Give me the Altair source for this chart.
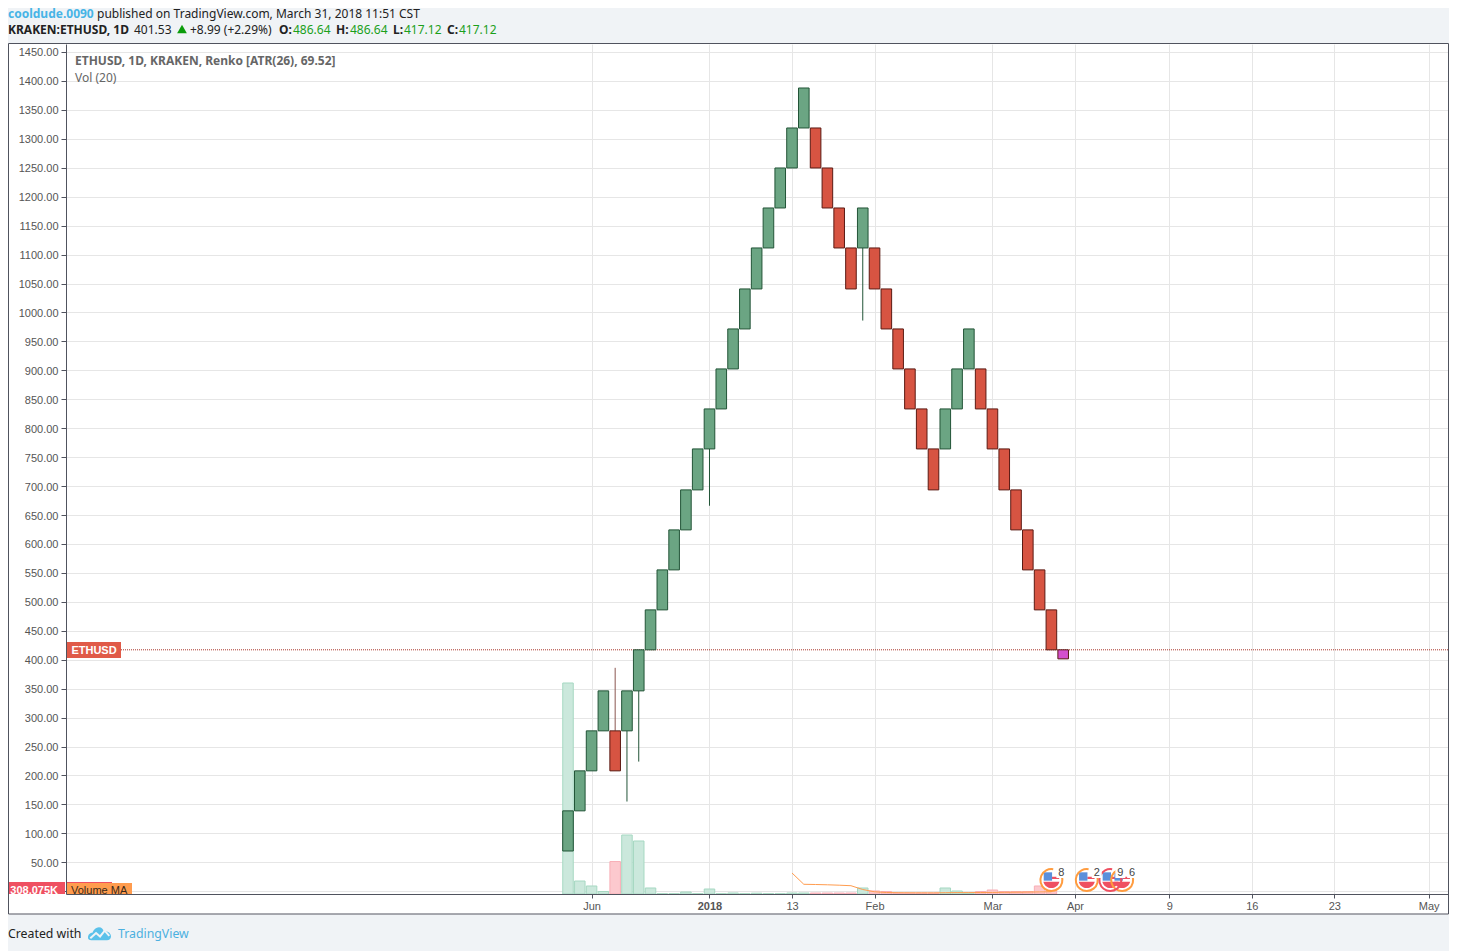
import altair as alt
import pandas as pd

# ---- price bricks ----
brick_index = list(range(43))
brick_low = [69.5,138.9,208,277.1,208,277.1,346.2,417.1,486.1,555.2,624.3,693.4,764.2,833.3,902.4,971.5,1040.6,1111.4,1180.5,1249.6,1318.7,
             1249.6,1180.5,1111.4,1040.6,1111.4,1040.6,971.5,902.4,833.3,764.2,693.4,764.2,833.3,902.4,833.3,764.2,693.4,624.3,555.2,486.1,417.1,401.5]
brick_high = [138.9,208,277.1,346.2,277.1,346.2,417.1,486.1,555.2,624.3,693.4,764.2,833.3,902.4,971.5,1040.6,1111.4,1180.5,1249.6,1318.7,1387.8,
              1318.7,1249.6,1180.5,1111.4,1180.5,1111.4,1040.6,971.5,902.4,833.3,764.2,833.3,902.4,971.5,902.4,833.3,764.2,693.4,624.3,555.2,486.1,417.1]
brick_dir = list("uuuuduuuuuuuuuuuuuuuu") + list("dddd") + ["u"] + list("dddddd") + list("uuu") + list("ddddddd") + ["p"]

# ---- wicks ----
wick_index = [4, 5, 6, 12, 25]
wick_from = [277.1, 277.1, 346.2, 764.2, 1111.4]
wick_to = [386, 155, 224, 666, 986]
wick_dir = ["d", "u", "u", "u", "u"]

# ---- volume (thousands) ----
vol_index = list(range(42))
vol_value = [12998,800,493,154,2000,3634,3265,370,18,18,123,18,308,18,62,18,50,18,18,60,60,
             60,60,60,60,370,185,154,60,60,60,60,370,185,60,154,246,154,154,154,493,370]
vol_dir = ["u","u","u","u","d","u","u","u","u","u","u","u","u","u","u","u","u","u","u","u","u",
           "d","d","d","d","u","d","d","d","d","d","d","u","u","u","d","d","d","d","d","d","d"]

# ---- volume moving average (thousands) ----
ma_index = list(range(19, 42))
ma_value = [1294,598,585,567,542,511,277,135,92,80,74,72,70,80,86,86,92,98,105,110,117,129,135]

# ---- axes ----
price_ticks = [0,50,100,150,200,250,300,350,400,450,500,550,600,650,700,750,800,850,900,950,1000,1050,
               1100,1150,1200,1250,1300,1350,1400,1450]
time_ticks = [2, 12, 19, 26, 36, 43, 51, 58, 65, 73]
time_labels = ["Jun", "2018", "13", "Feb", "Mar", "Apr", "9", "16", "23", "May"]
last_price = 417.12

# ---- event icons ----
event_index = [41, 44, 47, 46]
event_count = ["8", "2", "6", "9"]
event_ring = ["#ff9c3f", "#ff9c3f", "#ff9c3f", "#ef5061"]

UP, DOWN, PURPLE = "#6ba583", "#d75442", "#d44fce"
UP_E, DOWN_E, PURPLE_E = "#225437", "#5b1a13", "#5b1a13"
PAGE = "#f0f3f6"
FRAME = "#50535e"
GRID = "#e6e6e6"
FONT = "Noto Sans"
AXF = "Liberation Sans"

W, H = 1382, 850
OX, OY = 66, 44  # plot origin on page

bricks = pd.DataFrame({"i": brick_index, "lo": brick_low, "hi": brick_high, "d": brick_dir})
wicks = pd.DataFrame({"i": wick_index, "a": wick_from, "b": wick_to, "d": wick_dir})
vols = pd.DataFrame({"i": vol_index, "v": vol_value, "d": vol_dir})
ma = pd.DataFrame({"i": ma_index, "v": ma_value})
events = pd.DataFrame({"i": event_index, "n": event_count, "c": event_ring})

label_map = "{" + ",".join(f"{t}:'{l}'" for t, l in zip(time_ticks, time_labels)) + "}"
x_scale = alt.Scale(domain=[-42.58, 74.64], nice=False, zero=False, padding=0)
x_axis = alt.Axis(values=time_ticks, labelExpr=f"{label_map}[datum.value]", title=None, grid=True,
                  gridColor=GRID, gridWidth=1, domain=True, domainColor=FRAME, domainWidth=1,
                  tickColor=FRAME, tickSize=4, labelColor="#555555", labelFont=AXF, labelFontSize=11,
                  labelPadding=2, labelFontWeight=alt.expr("datum.value == 12 ? 'bold' : 'normal'"),
                  labelOverlap=False)
X = alt.X("i:Q", scale=x_scale, axis=x_axis)
price_scale = alt.Scale(domain=[-4.77, 1463.8], nice=False, zero=False, padding=0)
vol_scale = alt.Scale(domain=[0, 52360], nice=False, zero=False, padding=0)
dir_fill = alt.Scale(domain=["u", "d", "p"], range=[UP, DOWN, PURPLE])
dir_edge = alt.Scale(domain=["u", "d", "p"], range=[UP_E, DOWN_E, PURPLE_E])
vol_fill = alt.Scale(domain=["u", "d"], range=["#cbe8dc", "#fcc9ce"])
vol_edge = alt.Scale(domain=["u", "d"], range=["#a6d8c2", "#f8aeb6"])


def box(x0, x1, y0, y1, **mark):
    return alt.Chart(pd.DataFrame({"k": [0]})).mark_rect(**mark).encode(
        x=alt.value(x0 - OX), x2=alt.value(x1 - OX), y=alt.value(y0 - OY), y2=alt.value(y1 - OY))


def label(text, x, y, size=12, color="#222222", weight="normal", font=FONT, align="left"):
    return alt.Chart(pd.DataFrame({"k": [0]})).mark_text(
        text=text, align=align, baseline="alphabetic", fontSize=size, color=color,
        fontWeight=weight, font=font).encode(x=alt.value(x - OX), y=alt.value(y - OY))


page_top = box(8, 1449, 8, 43.5, fill=PAGE)
page_bottom = box(8, 1449, 914.5, 951, fill=PAGE)
frame = box(8.5, 1448.5, 43.5, 914, fill="transparent", stroke=FRAME, strokeWidth=1)

vol_bars = alt.Chart(vols).mark_bar(size=10.5, strokeWidth=1, clip=True).encode(
    x=X,
    y=alt.Y("v:Q", scale=vol_scale, axis=None),
    fill=alt.Fill("d:N", scale=vol_fill, legend=None),
    stroke=alt.Stroke("d:N", scale=vol_edge, legend=None),
)
ma_line = alt.Chart(ma).mark_line(color="#ff9c4e", strokeWidth=1).encode(
    x=X, y=alt.Y("v:Q", scale=vol_scale, axis=None))

price_axis = alt.Axis(values=price_ticks, title=None, grid=True, gridColor=GRID, gridWidth=1,
                      domain=True, domainColor=FRAME, domainWidth=1, tickColor=FRAME, tickSize=5,
                      labelColor="#555555", labelFont=AXF, labelFontSize=11, labelPadding=3, labelOffset=1,
                      labelExpr="datum.value == 0 ? '' : format(datum.value, '.2f')",
                      labelOverlap=False)
wick_rules = alt.Chart(wicks).mark_rule(strokeWidth=1).encode(
    x=X,
    y=alt.Y("a:Q", scale=price_scale, axis=price_axis),
    y2="b:Q",
    color=alt.Color("d:N", scale=alt.Scale(domain=["u", "d"], range=[UP_E, "#8a5550"]), legend=None),
)
brick_bars = alt.Chart(bricks).mark_bar(size=10.6, strokeWidth=1).encode(
    x=X,
    y=alt.Y("lo:Q", scale=price_scale, axis=None),
    y2="hi:Q",
    fill=alt.Fill("d:N", scale=dir_fill, legend=None),
    stroke=alt.Stroke("d:N", scale=dir_edge, legend=None),
)
last_line = alt.Chart(pd.DataFrame({"p": [last_price]})).mark_rule(
    color="#a8352a", strokeWidth=1, strokeDash=[1, 1]).encode(
    y=alt.Y("p:Q", scale=price_scale, axis=None))

# event icons
icon_y = 880 - OY
rings_white = alt.Chart(events).mark_point(shape="circle", filled=True, fill="white", size=430, opacity=1).encode(
    x=X, y=alt.value(icon_y))
red_part = alt.Chart(events).mark_point(
    filled=True, fill="#ef5061", opacity=1, size=484,
    shape="M-0.73,0.15 A0.75,0.75 0 0 0 0.73,0.15 Z M0.05,-0.3 L0.68,-0.3 L0.72,-0.08 L0.05,-0.08 Z",
).encode(x=X, y=alt.value(icon_y))
blue_part = alt.Chart(events).mark_point(shape="square", filled=True, fill="#5b8fdb", size=70, opacity=1, xOffset=-3.5, yOffset=-3.5).encode(
    x=X, y=alt.value(icon_y))
rings = alt.Chart(events).mark_point(
    filled=False, opacity=1, strokeWidth=2, size=484,
    shape="M0.913,-0.408 A1,1 0 1 1 0.166,-0.986",
).encode(x=X, y=alt.value(icon_y), stroke=alt.Stroke("c:N", scale=None, legend=None))
count_bg = alt.Chart(events).mark_point(shape="square", filled=True, fill="white", size=100, opacity=1, xOffset=10, yOffset=-7).encode(
    x=X, y=alt.value(icon_y))
counts = alt.Chart(events).mark_text(fontSize=11, font=AXF, color="#444444", dx=10, dy=-7).encode(
    x=X, y=alt.value(icon_y), text="n:N")

# logo
logo_cloud = alt.Chart(pd.DataFrame({"k": [0]})).mark_point(
    filled=True, fill="#5ac1ea", opacity=1, size=529,
    shape="M-1,0.42 C-1,0.1 -0.8,-0.02 -0.62,-0.02 C-0.5,-0.3 -0.3,-0.5 -0.05,-0.5 C0.2,-0.5 0.3,-0.32 0.38,-0.14 C0.75,-0.2 1,0.05 1,0.3 C1,0.5 0.85,0.62 0.65,0.62 L-0.7,0.62 C-0.9,0.62 -1,0.55 -1,0.42 Z",
).encode(x=alt.value(99.5 - OX), y=alt.value(933 - OY))
logo_zig = alt.Chart(pd.DataFrame({"k": [0]})).mark_point(
    filled=False, stroke=PAGE, strokeWidth=2, opacity=1, size=529,
    shape="M-0.8,0.45 L-0.3,0 L0.05,0.3 L0.45,-0.2 L0.85,0.25",
).encode(x=alt.value(99.5 - OX), y=alt.value(933 - OY))

GREEN = "#1ba01b"
triangle = alt.Chart(pd.DataFrame({"k": [0]})).mark_point(
    shape="triangle-up", filled=True, fill="#0b9c0b", opacity=1, size=95).encode(
    x=alt.value(182 - OX), y=alt.value(29 - OY))

texts = [
    label("cooldude.0090", 8, 18, color="#47b4e6", weight="bold"),
    label("published on TradingView.com, March 31, 2018 11:51 CST", 97, 18),
    label("KRAKEN:ETHUSD, 1D", 8, 34, weight="bold"),
    label("401.53", 134, 34),
    label("+8.99 (+2.29%)", 190, 34),
    label("O:", 279, 34, weight="bold"),
    label("486.64", 293, 34, color=GREEN),
    label("H:", 336, 34, weight="bold"),
    label("486.64", 350, 34, color=GREEN),
    label("L:", 393, 34, weight="bold"),
    label("417.12", 404, 34, color=GREEN),
    label("C:", 447, 34, weight="bold"),
    label("417.12", 459, 34, color=GREEN),
    label("ETHUSD, 1D, KRAKEN, Renko [ATR(26), 69.52]", 75, 65, color="#666666", weight="bold"),
    label("Vol (20)", 75, 82, color="#666666"),
    label("Created with", 8, 938, size=12.3, color="#222222"),
    label("TradingView", 118, 938, size=12.3, color="#4cb0e0"),
]

eth_tag = box(67, 121, 642, 658, fill="#e05a48")
eth_text = label("ETHUSD", 94, 654, size=11, color="white", weight="bold", font=AXF, align="center")
vol_tag = box(8, 65, 882, 894, fill="#ef5061")
vol_text = label("308.075K", 58, 894, size=11, color="white", weight="bold", font=AXF, align="right")
vol_line_tag = box(67, 112, 882, 894, fill="#ef5061")
ma_tag = box(67, 132, 883, 894, fill="#ff9c4e")
ma_text = label("Volume MA", 71, 894, size=11, color="#3a2a1a", font=AXF)

chart = alt.layer(
    page_top, page_bottom,
    vol_bars, ma_line, last_line, wick_rules, brick_bars,
    rings_white, red_part, blue_part, rings, count_bg, counts,
    eth_tag, eth_text, vol_tag, vol_line_tag, ma_tag, ma_text, vol_text,
    frame, logo_cloud, logo_zig, triangle, *texts,
).resolve_scale(y="independent", fill="independent", stroke="independent", color="independent").properties(
    width=W, height=H, background="white",
    padding={"left": OX - 8, "top": OY - 8, "right": 1441 - (OX - 8) - W, "bottom": 943 - (OY - 8) - H},
    autosize=alt.AutoSizeParams(type="none"),
).configure_view(fill="white", stroke=None)

chart.save("out.html", embed_options={"renderer": "svg", "actions": False})
